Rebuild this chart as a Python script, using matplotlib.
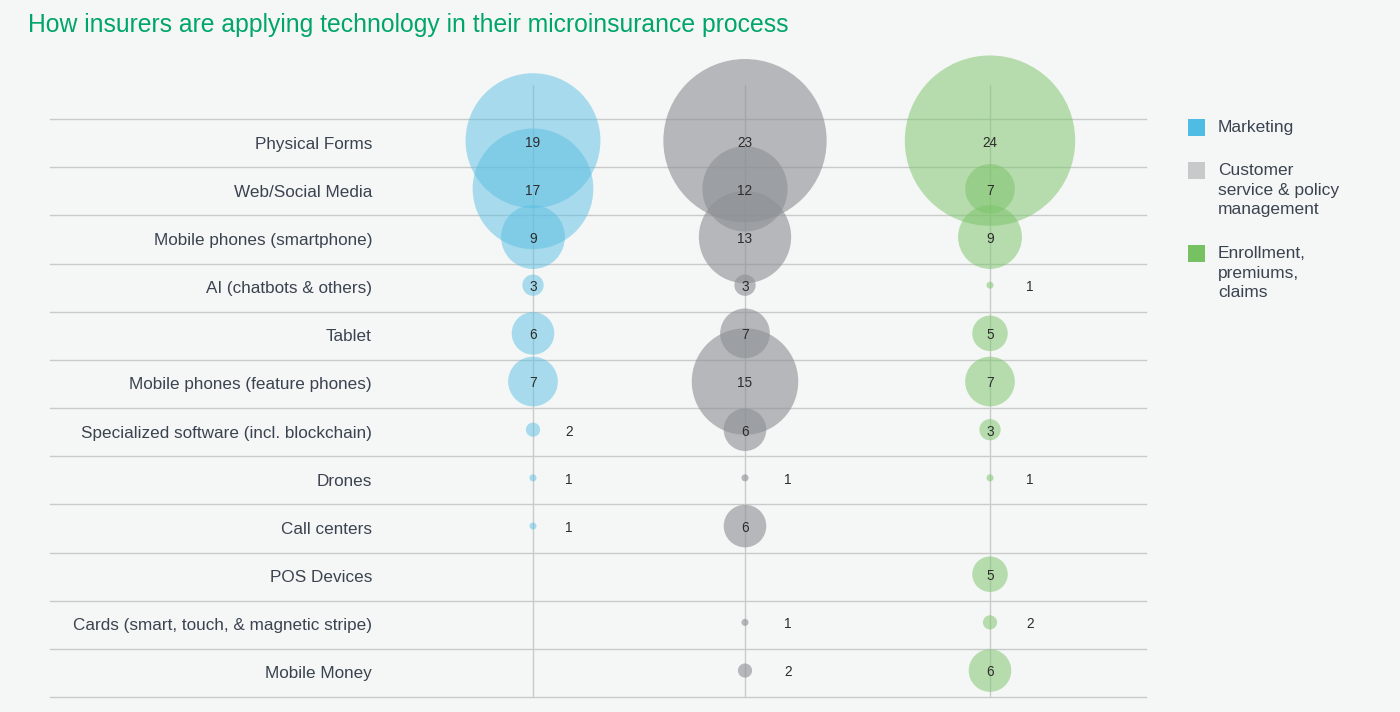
import matplotlib
matplotlib.use("Agg")
import matplotlib.pyplot as plt
from matplotlib.patches import Rectangle

plt.rcParams['font.family'] = ['Liberation Sans', 'DejaVu Sans']

# ---------------- data ----------------
title = "How insurers are applying technology in their microinsurance process"
categories = [
    "Physical Forms",
    "Web/Social Media",
    "Mobile phones (smartphone)",
    "AI (chatbots & others)",
    "Tablet",
    "Mobile phones (feature phones)",
    "Specialized software (incl. blockchain)",
    "Drones",
    "Call centers",
    "POS Devices",
    "Cards (smart, touch, & magnetic stripe)",
    "Mobile Money",
]
series_names = ["Marketing", "Customer\nservice & policy\nmanagement", "Enrollment,\npremiums,\nclaims"]
marketing = [19, 17, 9, 3, 6, 7, 2, 1, 1, 0, 0, 0]
customer_service = [23, 12, 13, 3, 7, 15, 6, 1, 6, 0, 1, 2]
enrollment = [24, 7, 9, 1, 5, 7, 3, 1, 0, 5, 2, 6]

# ---------------- style ----------------
W, H, DPI = 1400, 712, 100
bg = "#f5f7f6"
col_x = [533, 745, 990]
label_offset = [36, 43, 40]
bubble_colors = ["#5bbfe3", "#8e9195", "#7cc46a"]
bubble_alpha = [0.5, 0.62, 0.52]
legend_colors = ["#4fbde3", "#c8c9ca", "#76c162"]
text_dark = "#3b4350"
grid_c = "#c9cbcb"
row_top_px, row_h_px = 119, 48.17
px_per_unit = 7.1  # bubble diameter in px per unit value

fig = plt.figure(figsize=(W / DPI, H / DPI), dpi=DPI, facecolor=bg)
ax = fig.add_axes([0, 0, 1, 1])
ax.set_facecolor(bg)
n = len(categories)
ax.set_xlim(0, W)
ax.set_ylim(-0.5 + (H - row_top_px) / row_h_px, -0.5 - row_top_px / row_h_px)
ax.axis("off")

# horizontal separators
for k in range(n + 1):
    ax.plot([50, 1146], [k - 0.5, k - 0.5], color=grid_c, lw=1.0, zorder=1)
# vertical lines
top_v = -0.5 - (row_top_px - 85) / row_h_px
for cx in col_x:
    ax.plot([cx, cx], [top_v, n - 0.5], color=grid_c, lw=1.0, zorder=1)

# row labels
for i, c in enumerate(categories):
    ax.text(372, i + 0.02, c, ha="right", va="center", fontsize=12.3, color=text_dark, zorder=5)

# bubbles
all_series = [marketing, customer_service, enrollment]
for j, vals in enumerate(all_series):
    xs, ys, ss = [], [], []
    for i, v in enumerate(vals):
        if v > 0:
            xs.append(col_x[j]); ys.append(i - 0.05)
            d_pt = v * px_per_unit * 72 / DPI
            ss.append(d_pt ** 2)
    ax.scatter(xs, ys, s=ss, color=bubble_colors[j], alpha=bubble_alpha[j],
               linewidths=0, zorder=3)
    for i, v in enumerate(vals):
        if v <= 0:
            continue
        xt = col_x[j] if v >= 3 else col_x[j] + label_offset[j]
        ax.text(xt, i - 0.01, str(v), ha="center", va="center",
                fontsize=9.8, color="#2b2b2b", zorder=6)

# title
fig.text(28 / W, 1 - 25 / H, title, ha="left", va="center", fontsize=17.8, color="#00a569")

# legend
leg_ax = fig.add_axes([0, 0, 1, 1], facecolor="none")
leg_ax.set_xlim(0, W); leg_ax.set_ylim(H, 0); leg_ax.axis("off")
leg_tops = [119, 162, 245]
for k, name in enumerate(series_names):
    leg_ax.add_patch(Rectangle((1188, leg_tops[k]), 17, 17, color=legend_colors[k], lw=0))
    leg_ax.text(1218, leg_tops[k] + 1, name, ha="left", va="top", fontsize=12.5,
                color=text_dark, linespacing=1.38)

fig.savefig("out.png", dpi=DPI, facecolor=bg)
